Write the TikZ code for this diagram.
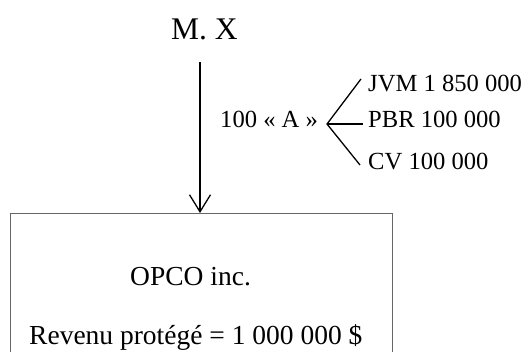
\documentclass[tikz,border=0pt]{standalone}
\usepackage{fontspec}
\setmainfont{Liberation Serif}
\usetikzlibrary{arrows.meta}
\begin{document}
\begin{tikzpicture}[x=1pt,y=-1pt,
  txt/.style={inner sep=0pt,anchor=base west},
  bigtxt/.style={txt,font=\fontsize{27.5}{30}\selectfont},
  smalltxt/.style={txt,font=\fontsize{24.6}{27}\selectfont},
  conn/.style={line width=1.3pt,black},
  arr/.style={conn,-{Straight Barb[length=17pt,width=21pt,line width=1.3pt]}},
  boxstyle/.style={draw=black!60,line width=1.3pt,inner sep=0pt,anchor=north west,minimum width=382pt,minimum height=170pt}]
\useasboundingbox (0,0) rectangle (528,352);
\clip (0,0) rectangle (528,352);
\node[txt,font=\fontsize{31.5}{34}\selectfont] (mx) at (171,40) {M. X};
\coordinate (top) at (200,62);
\node[boxstyle] (opco) at (10,213) {};
\draw[arr] (top) -- (top |- opco.north);
\node[bigtxt] (opconame) at (130,286) {OPCO inc.};
\node[bigtxt] (revenu) at (29,345) {Revenu protégé = 1 000 000 \$};
\node[smalltxt] (a) at (220,128) {100 « A »};
\coordinate (fork) at (327,124);
\coordinate (e1) at (361,79);
\coordinate (e2) at (363,124);
\coordinate (e3) at (360,165);
\draw[conn] (e1) -- (fork) -- (e3);
\draw[conn] (fork) -- (e2);
\node[smalltxt] (jvm) at (368,92) {JVM 1 850 000};
\node[smalltxt] (pbr) at (368,128) {PBR 100 000};
\node[smalltxt] (cv) at (368,170) {CV 100 000};
\end{tikzpicture}
\end{document}
